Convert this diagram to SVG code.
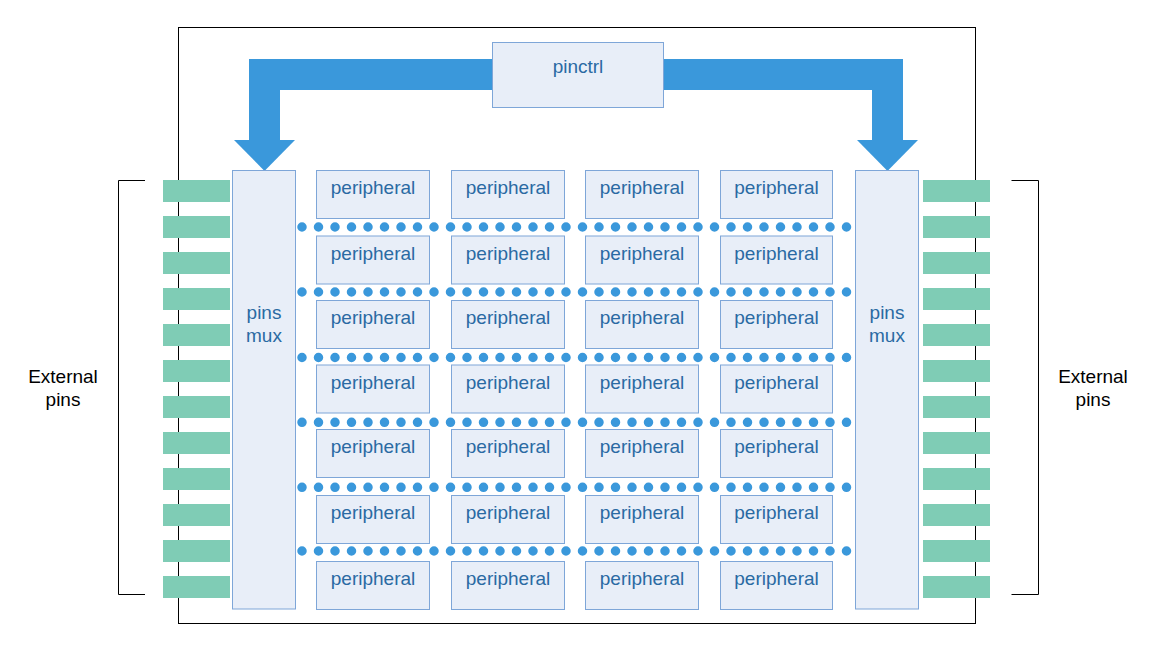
<svg xmlns="http://www.w3.org/2000/svg" width="1159" height="650" viewBox="0 0 1159 650">
  <style>
    .box { fill: #e8eef8; stroke: #7ea6d8; stroke-width: 1; }
    .lbl { font-family: "Liberation Sans", Arial, sans-serif; font-size: 19px; fill: #2a6aa3; text-anchor: middle; }
    .ext { font-family: "Liberation Sans", Arial, sans-serif; font-size: 19px; fill: #000000; text-anchor: middle; }
    .pin { fill: #7fccb5; }
    .bracket { fill: none; stroke: #000000; stroke-width: 1; }
    .bus { fill: none; stroke: #3a98db; stroke-width: 9.5; stroke-linecap: round; stroke-dasharray: 0 16.5; }
    .arrow { fill: none; stroke: #3a98db; stroke-width: 31; }
    .head { fill: #3a98db; }
  </style>
  <rect width="1159" height="650" fill="#ffffff"/>
  <g id="chip">
    <rect x="178.5" y="27.5" width="797" height="596" fill="none" stroke="#000000" stroke-width="1"/>
  </g>
  <g id="left-pins">
    <rect class="pin" x="163" y="180" width="67" height="22"/>
    <rect class="pin" x="163" y="216" width="67" height="22"/>
    <rect class="pin" x="163" y="252" width="67" height="22"/>
    <rect class="pin" x="163" y="288" width="67" height="22"/>
    <rect class="pin" x="163" y="324" width="67" height="22"/>
    <rect class="pin" x="163" y="360" width="67" height="22"/>
    <rect class="pin" x="163" y="396" width="67" height="22"/>
    <rect class="pin" x="163" y="432" width="67" height="22"/>
    <rect class="pin" x="163" y="468" width="67" height="22"/>
    <rect class="pin" x="163" y="504" width="67" height="22"/>
    <rect class="pin" x="163" y="540" width="67" height="22"/>
    <rect class="pin" x="163" y="576" width="67" height="22"/>
  </g>
  <g id="right-pins">
    <rect class="pin" x="923" y="180" width="67" height="22"/>
    <rect class="pin" x="923" y="216" width="67" height="22"/>
    <rect class="pin" x="923" y="252" width="67" height="22"/>
    <rect class="pin" x="923" y="288" width="67" height="22"/>
    <rect class="pin" x="923" y="324" width="67" height="22"/>
    <rect class="pin" x="923" y="360" width="67" height="22"/>
    <rect class="pin" x="923" y="396" width="67" height="22"/>
    <rect class="pin" x="923" y="432" width="67" height="22"/>
    <rect class="pin" x="923" y="468" width="67" height="22"/>
    <rect class="pin" x="923" y="504" width="67" height="22"/>
    <rect class="pin" x="923" y="540" width="67" height="22"/>
    <rect class="pin" x="923" y="576" width="67" height="22"/>
  </g>
  <g id="left-external">
    <path class="bracket" d="M145 180.5 H118.5 V594.5 H145"/>
    <text class="ext" x="63" y="383">External</text>
    <text class="ext" x="63" y="405.5">pins</text>
  </g>
  <g id="right-external">
    <path class="bracket" d="M1011.5 180.5 H1038.5 V594.5 H1011.5"/>
    <text class="ext" x="1093" y="383">External</text>
    <text class="ext" x="1093" y="405.5">pins</text>
  </g>
  <g id="connectors">
    <path class="arrow" d="M492.5 74.5 H264.5 V141"/>
    <polygon class="head" points="234,140 295,140 264.5,171"/>
    <path class="arrow" d="M663.5 74.5 H887.5 V141"/>
    <polygon class="head" points="857,140 918,140 887.5,171"/>
    <line class="bus" x1="302" y1="227" x2="850" y2="227"/>
    <line class="bus" x1="302" y1="292" x2="850" y2="292"/>
    <line class="bus" x1="302" y1="357.5" x2="850" y2="357.5"/>
    <line class="bus" x1="302" y1="422.3" x2="850" y2="422.3"/>
    <line class="bus" x1="302" y1="487.3" x2="850" y2="487.3"/>
    <line class="bus" x1="302" y1="551" x2="850" y2="551"/>
  </g>
  <g id="pinctrl">
    <rect class="box" x="492.5" y="42.5" width="171" height="65"/>
    <text class="lbl" x="578" y="72.5">pinctrl</text>
  </g>
  <g id="pins-mux-left">
    <rect class="box" x="232.5" y="170.5" width="63" height="438.5"/>
    <text class="lbl" x="264" y="319">pins</text>
    <text class="lbl" x="264" y="342">mux</text>
  </g>
  <g id="pins-mux-right">
    <rect class="box" x="855.5" y="170.5" width="63" height="438.5"/>
    <text class="lbl" x="887" y="319">pins</text>
    <text class="lbl" x="887" y="342">mux</text>
  </g>
  <g id="peripherals">
    <g id="p-r1c1"><rect class="box" x="316.5" y="170.5" width="113" height="48"/><text class="lbl" x="373" y="194">peripheral</text></g>
    <g id="p-r1c2"><rect class="box" x="451.5" y="170.5" width="113" height="48"/><text class="lbl" x="508" y="194">peripheral</text></g>
    <g id="p-r1c3"><rect class="box" x="585.5" y="170.5" width="113" height="48"/><text class="lbl" x="642" y="194">peripheral</text></g>
    <g id="p-r1c4"><rect class="box" x="720.5" y="170.5" width="112" height="48"/><text class="lbl" x="776.5" y="194">peripheral</text></g>
    <g id="p-r2c1"><rect class="box" x="316.5" y="236" width="113" height="48"/><text class="lbl" x="373" y="259.5">peripheral</text></g>
    <g id="p-r2c2"><rect class="box" x="451.5" y="236" width="113" height="48"/><text class="lbl" x="508" y="259.5">peripheral</text></g>
    <g id="p-r2c3"><rect class="box" x="585.5" y="236" width="113" height="48"/><text class="lbl" x="642" y="259.5">peripheral</text></g>
    <g id="p-r2c4"><rect class="box" x="720.5" y="236" width="112" height="48"/><text class="lbl" x="776.5" y="259.5">peripheral</text></g>
    <g id="p-r3c1"><rect class="box" x="316.5" y="300.5" width="113" height="48"/><text class="lbl" x="373" y="324">peripheral</text></g>
    <g id="p-r3c2"><rect class="box" x="451.5" y="300.5" width="113" height="48"/><text class="lbl" x="508" y="324">peripheral</text></g>
    <g id="p-r3c3"><rect class="box" x="585.5" y="300.5" width="113" height="48"/><text class="lbl" x="642" y="324">peripheral</text></g>
    <g id="p-r3c4"><rect class="box" x="720.5" y="300.5" width="112" height="48"/><text class="lbl" x="776.5" y="324">peripheral</text></g>
    <g id="p-r4c1"><rect class="box" x="316.5" y="365" width="113" height="48"/><text class="lbl" x="373" y="388.5">peripheral</text></g>
    <g id="p-r4c2"><rect class="box" x="451.5" y="365" width="113" height="48"/><text class="lbl" x="508" y="388.5">peripheral</text></g>
    <g id="p-r4c3"><rect class="box" x="585.5" y="365" width="113" height="48"/><text class="lbl" x="642" y="388.5">peripheral</text></g>
    <g id="p-r4c4"><rect class="box" x="720.5" y="365" width="112" height="48"/><text class="lbl" x="776.5" y="388.5">peripheral</text></g>
    <g id="p-r5c1"><rect class="box" x="316.5" y="429.5" width="113" height="48"/><text class="lbl" x="373" y="453">peripheral</text></g>
    <g id="p-r5c2"><rect class="box" x="451.5" y="429.5" width="113" height="48"/><text class="lbl" x="508" y="453">peripheral</text></g>
    <g id="p-r5c3"><rect class="box" x="585.5" y="429.5" width="113" height="48"/><text class="lbl" x="642" y="453">peripheral</text></g>
    <g id="p-r5c4"><rect class="box" x="720.5" y="429.5" width="112" height="48"/><text class="lbl" x="776.5" y="453">peripheral</text></g>
    <g id="p-r6c1"><rect class="box" x="316.5" y="495.5" width="113" height="48"/><text class="lbl" x="373" y="519">peripheral</text></g>
    <g id="p-r6c2"><rect class="box" x="451.5" y="495.5" width="113" height="48"/><text class="lbl" x="508" y="519">peripheral</text></g>
    <g id="p-r6c3"><rect class="box" x="585.5" y="495.5" width="113" height="48"/><text class="lbl" x="642" y="519">peripheral</text></g>
    <g id="p-r6c4"><rect class="box" x="720.5" y="495.5" width="112" height="48"/><text class="lbl" x="776.5" y="519">peripheral</text></g>
    <g id="p-r7c1"><rect class="box" x="316.5" y="561.5" width="113" height="48"/><text class="lbl" x="373" y="585">peripheral</text></g>
    <g id="p-r7c2"><rect class="box" x="451.5" y="561.5" width="113" height="48"/><text class="lbl" x="508" y="585">peripheral</text></g>
    <g id="p-r7c3"><rect class="box" x="585.5" y="561.5" width="113" height="48"/><text class="lbl" x="642" y="585">peripheral</text></g>
    <g id="p-r7c4"><rect class="box" x="720.5" y="561.5" width="112" height="48"/><text class="lbl" x="776.5" y="585">peripheral</text></g>
  </g>
</svg>
